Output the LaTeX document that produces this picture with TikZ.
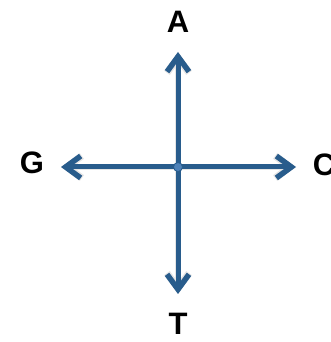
\documentclass[tikz,border=0pt]{standalone}
\usepackage{fontspec}
\setmainfont{Liberation Sans}
\usetikzlibrary{arrows.meta,positioning}
\definecolor{axisblue}{HTML}{285C8C}
\definecolor{hubblue}{HTML}{4F82B8}

\begin{document}
\begin{tikzpicture}[
  x=1pt, y=1pt,
  base/.style={font=\fontsize{31}{34}\selectfont\bfseries, inner sep=0pt},
  axis/.style={-{Straight Barb[length=15pt, width=22pt, line width=5.5pt]}, line width=5pt, axisblue},
  shade/.style={-{Straight Barb[length=15pt, width=22pt, line width=7pt]}, line width=6.5pt, black!10}
]
  \useasboundingbox (0,0) rectangle (331,342);

  % centre and arrow tips
  \coordinate (o) at (178,175);
  \coordinate (tA) at (178,290);
  \coordinate (tT) at (178,48);
  \coordinate (tG) at (61,175);
  \coordinate (tC) at (296,175);

  % bases
  \node[base] (A) at (178,320) {A};
  \node[base] (T) at (178,18) {T};
  \node[base] (G) at (32,179) {G};
  \node[base] (C) at (324,177) {C};

  % shadows
  \begin{scope}[xshift=2pt, yshift=-4pt]
    \draw[shade] (o) -- (tA);
    \draw[shade] (o) -- (tT);
    \draw[shade] (o) -- (tG);
    \draw[shade] (o) -- (tC);
  \end{scope}

  % arrows
  \draw[axis] (o) -- (tA);
  \draw[axis] (o) -- (tT);
  \draw[axis] (o) -- (tG);
  \draw[axis] (o) -- (tC);

  % hub
  \fill[hubblue, draw=axisblue, line width=0.8pt] (o) circle (4.5pt);
\end{tikzpicture}
\end{document}
